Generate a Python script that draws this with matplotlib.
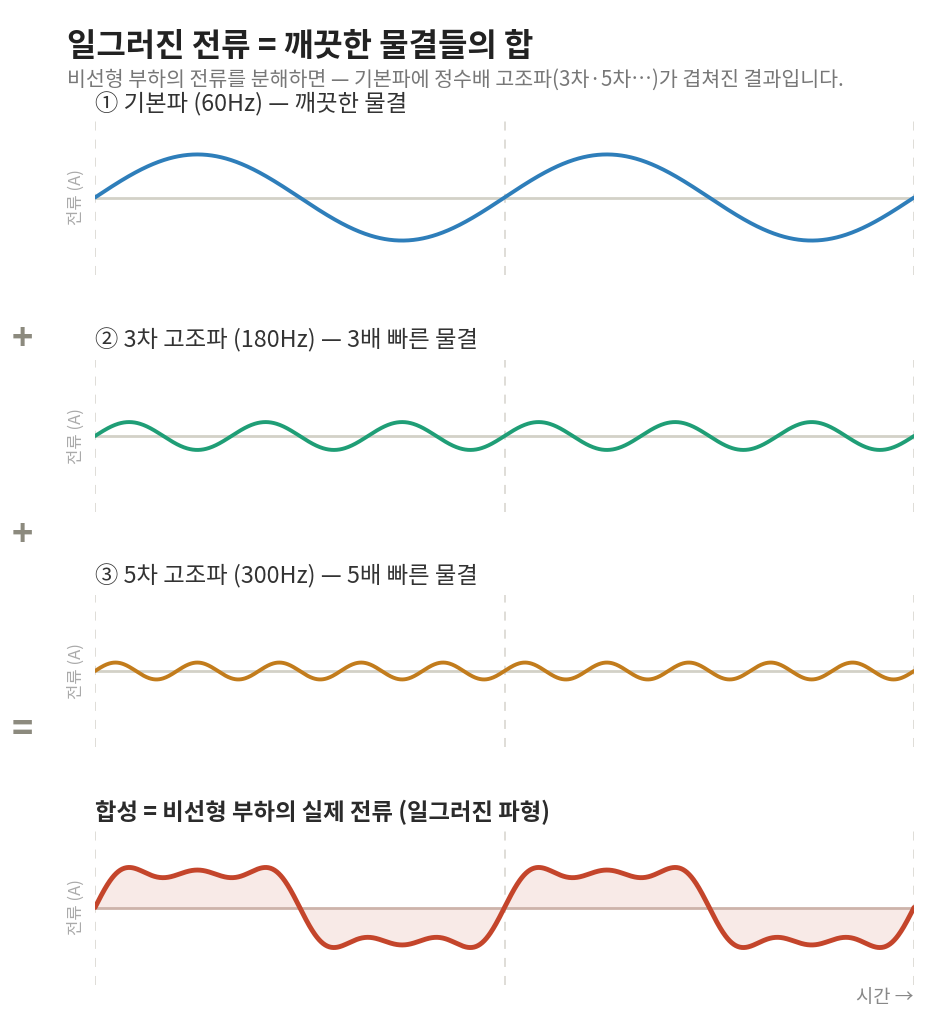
import numpy as np
import matplotlib
matplotlib.use('Agg')
import matplotlib.pyplot as plt

plt.rcParams['font.family'] = ['Noto Sans CJK KR', 'DejaVu Sans']

# harmonic content of the distorted current
orders = [1, 3, 5]
freqs_hz = [60, 180, 300]
amplitudes = [1.0, 0.33, 0.2]
panel_titles = ['① 기본파 (60Hz) — 깨끗한 물결',
                '② 3차 고조파 (180Hz) — 3배 빠른 물결',
                '③ 5차 고조파 (300Hz) — 5배 빠른 물결']
sum_title = '합성 = 비선형 부하의 실제 전류 (일그러진 파형)'
colors = ['#2e7eba', '#1f9e76', '#c27c1c']
sum_color = '#c4452b'
operators = ['+', '+', '=']

n_periods = 2
t = np.linspace(0, n_periods, 1200)  # time in fundamental periods

waves = [a * np.sin(2 * np.pi * k * t) for k, a in zip(orders, amplitudes)]
total = np.sum(waves, axis=0)

fig = plt.figure(figsize=(9.43, 10.24), dpi=100)
W, H = 943, 1024

# panel top/bottom in pixels
panel_px = [(120, 275), (360, 512), (595, 747), (830, 985)]
title_px = [104, 340, 576, 812]
op_px = [340, 535, 730]
x0, x1 = 95, 914


def make_ax(top, bot):
    ax = fig.add_axes([x0 / W, 1 - bot / H, (x1 - x0) / W, (bot - top) / H])
    ax.set_xlim(0, n_periods)
    ax.set_ylim(-1.8, 1.8)
    ax.axis('off')
    for xv in [0, 1, 2]:
        ax.axvline(xv, color='#dcdad4', lw=1.3, ls=(0, (5, 5)), zorder=0)
    ax.text(-0.047, 0, '전류 (A)', rotation=90, ha='center', va='center',
            fontsize=12, color='#aaaaaa', transform=ax.transData, clip_on=False)
    return ax


for i in range(3):
    ax = make_ax(*panel_px[i])
    ax.axhline(0, color='#d3d1c7', lw=2, zorder=1)
    ax.plot(t, waves[i], color=colors[i], lw=2.8, zorder=2, solid_capstyle='round')
    fig.text(x0 / W, 1 - title_px[i] / H, panel_titles[i], fontsize=16.8,
             color='#333333', va='center', ha='left')

ax = make_ax(*panel_px[3])
ax.fill_between(t, 0, total, color=sum_color, alpha=0.11, lw=0, zorder=1)
ax.axhline(0, color='#cdb3aa', lw=2, zorder=1)
ax.plot(t, total, color=sum_color, lw=3.5, zorder=2, solid_capstyle='round')
fig.text(x0 / W, 1 - title_px[3] / H, sum_title, fontsize=16.8, fontweight='bold',
         color='#2b2b2b', va='center', ha='left')

for op, y in zip(operators, op_px):
    fig.text(22 / W, 1 - y / H, op, fontsize=26, fontweight='bold',
             color='#8c8a7e', ha='center', va='center')

fig.text(67 / W, 1 - 47 / H, '일그러진 전류 = 깨끗한 물결들의 합', fontsize=23,
         fontweight='bold', color='#222222', va='center', ha='left')
fig.text(67 / W, 1 - 80 / H,
         '비선형 부하의 전류를 분해하면 — 기본파에 정수배 고조파(3차·5차…)가 겹쳐진 결과입니다.',
         fontsize=14.8, color='#777777', va='center', ha='left')
fig.text(x1 / W, 1 - 998 / H, '시간 →', fontsize=13.5, color='#888888',
         ha='right', va='center')

fig.savefig('out.png', dpi=100)
